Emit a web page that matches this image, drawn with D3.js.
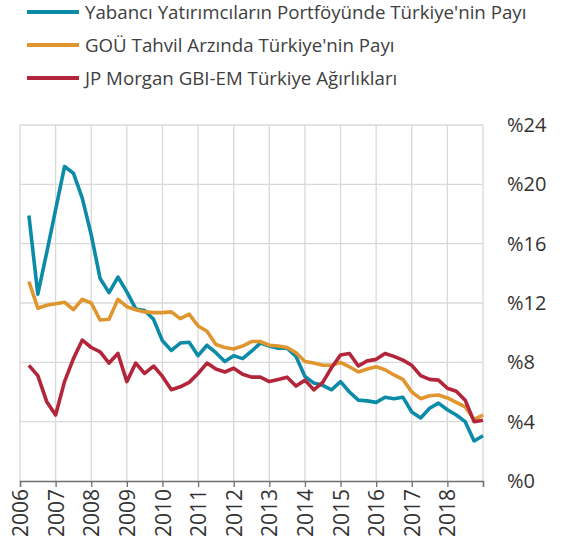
<!DOCTYPE HTML>
<html lang="tr">
<head>
	<meta charset="utf-8">
	<title>Türkiye Payı</title>
	<script src="https://d3js.org/d3.v7.min.js"></script>
<style>
	body{
		margin: 0;
		background: white;
	}
	text{
		font-family: "Open Sans", sans-serif;
	}
</style>
</head>
<body>
	<div id="chart"></div>

	<script>

		/** Quarterly data, 2006Q1 - 2018Q4 */

		var startYear = 2006;
		var yearTicks = [2006, 2007, 2008, 2009, 2010, 2011, 2012, 2013, 2014, 2015, 2016, 2017, 2018];
		var yTicks = [0, 4, 8, 12, 16, 20, 24];

		var seriesNames = [
			"Yabancı Yatırımcıların Portföyünde Türkiye'nin Payı",
			"GOÜ Tahvil Arzında Türkiye'nin Payı",
			"JP Morgan GBI-EM Türkiye Ağırlıkları"
		];
		var seriesColors = ["#0b8ba8", "#e0962f", "#b3253a"];

		var foreignShare = [17.9, 12.6, 15.4, 18.3, 21.2, 20.75, 19.05, 16.6, 13.65, 12.7,
			13.75, 12.75, 11.6, 11.5, 10.9, 9.45, 8.8, 9.3, 9.35, 8.45,
			9.15, 8.65, 8.05, 8.45, 8.25, 8.75, 9.3, 9.1, 8.95, 8.95,
			8.4, 7.05, 6.6, 6.45, 6.15, 6.7, 6.0, 5.45, 5.4, 5.3,
			5.65, 5.55, 5.65, 4.65, 4.25, 4.9, 5.25, 4.8, 4.45, 4.0,
			2.7, 3.05];

		var issuanceShare = [13.45, 11.65, 11.85, 11.95, 12.05, 11.55, 12.25, 12.0, 10.85, 10.9,
			12.25, 11.75, 11.55, 11.4, 11.35, 11.35, 11.4, 10.95, 11.25, 10.45,
			10.1, 9.2, 9.0, 8.9, 9.1, 9.4, 9.4, 9.15, 9.1, 9.0,
			8.65, 8.05, 7.95, 7.8, 7.8, 8.0, 7.7, 7.35, 7.55, 7.7,
			7.5, 7.15, 6.85, 6.0, 5.55, 5.75, 5.8, 5.6, 5.3, 5.0,
			4.15, 4.45];

		var gbiWeight = [7.8, 7.1, 5.35, 4.45, 6.7, 8.25, 9.5, 9.0, 8.7, 7.95,
			8.6, 6.7, 7.95, 7.25, 7.75, 7.05, 6.15, 6.35, 6.65, 7.25,
			7.95, 7.55, 7.35, 7.6, 7.2, 7.0, 7.0, 6.7, 6.85, 7.0,
			6.4, 6.8, 6.15, 6.65, 7.65, 8.5, 8.6, 7.75, 8.1, 8.2,
			8.6, 8.4, 8.15, 7.8, 7.1, 6.85, 6.8, 6.25, 6.05, 5.45,
			4.0, 4.1];

		var allSeries = [foreignShare, issuanceShare, gbiWeight];

		/** Chart size */

		var width = 562;
		var height = 554;
		var plotLeft = 20, plotRight = 483, plotTop = 125, plotBottom = 481;

		var svg = d3.select("#chart")
			.append("svg")
			.attr("width", width)
			.attr("height", height);

		var x = d3.scaleLinear()
			.domain([2006, 2019])
			.range([plotLeft, plotRight]);

		var y = d3.scaleLinear()
			.domain([0, 24])
			.range([plotBottom, plotTop]);

		/** Grid */

		svg.append("g")
			.selectAll("line")
			.data(yTicks.filter(function(d){ return d > 0; }))
			.enter()
			.append("line")
			.attr("x1", plotLeft)
			.attr("x2", plotRight)
			.attr("y1", function(d){ return y(d); })
			.attr("y2", function(d){ return y(d); })
			.attr("stroke", "#d9d9d9")
			.attr("stroke-width", 1.3);

		svg.append("g")
			.selectAll("line")
			.data(yearTicks.concat([2019]))
			.enter()
			.append("line")
			.attr("x1", function(d){ return x(d); })
			.attr("x2", function(d){ return x(d); })
			.attr("y1", plotTop)
			.attr("y2", plotBottom)
			.attr("stroke", "#d9d9d9")
			.attr("stroke-width", 1.3);

		/** X axis */

		var xAxis = svg.append("g")
			.attr("transform", "translate(0," + plotBottom + ")")
			.call(d3.axisBottom(x)
				.tickValues(yearTicks.concat([2019]))
				.tickSize(6)
				.tickFormat(function(d){ return d < 2019 ? d : ""; }));

		xAxis.select(".domain").attr("stroke", "#6e6e6e").attr("stroke-width", 1.3);
		xAxis.selectAll(".tick line").attr("stroke", "#6e6e6e").attr("stroke-width", 1.3);
		xAxis.selectAll(".tick text")
			.attr("transform", "rotate(-90)")
			.attr("x", -8)
			.attr("y", 0)
			.attr("dy", "0.36em")
			.style("text-anchor", "end")
			.style("font-family", "'Open Sans', sans-serif")
			.style("font-size", "21px")
			.attr("fill", "#333");

		/** Y axis labels on the right */

		var yAxis = svg.append("g")
			.attr("transform", "translate(" + plotRight + ",0)")
			.call(d3.axisRight(y)
				.tickValues(yTicks)
				.tickSize(0)
				.tickPadding(24)
				.tickFormat(function(d){ return "%" + d; }));

		yAxis.select(".domain").remove();
		yAxis.selectAll(".tick text")
			.style("font-family", "'Open Sans', sans-serif")
			.style("font-size", "20px")
			.attr("fill", "#333");

		/** Lines */

		var line = d3.line()
			.x(function(d, i){ return x(startYear + 0.25 + i * 0.25); })
			.y(function(d){ return y(d); });

		svg.selectAll(".series")
			.data(allSeries)
			.enter()
			.append("path")
			.attr("class", "series")
			.attr("d", line)
			.attr("fill", "none")
			.attr("stroke", function(d, i){ return seriesColors[i]; })
			.attr("stroke-width", 3.6)
			.attr("stroke-linejoin", "round");

		/** Legend */

		var legend = svg.selectAll(".legend")
			.data(seriesNames)
			.enter()
			.append("g")
			.attr("class", "legend")
			.attr("transform", function(d, i){ return "translate(27," + (12 + i * 33) + ")"; });

		legend.append("line")
			.attr("x1", 0)
			.attr("x2", 52)
			.attr("stroke", function(d, i){ return seriesColors[i]; })
			.attr("stroke-width", 4);

		legend.append("text")
			.attr("x", 58)
			.attr("dy", "0.35em")
			.style("font-size", "18.7px")
			.attr("fill", "#404040")
			.text(function(d){ return d; });

	</script>
</body>
</html>
